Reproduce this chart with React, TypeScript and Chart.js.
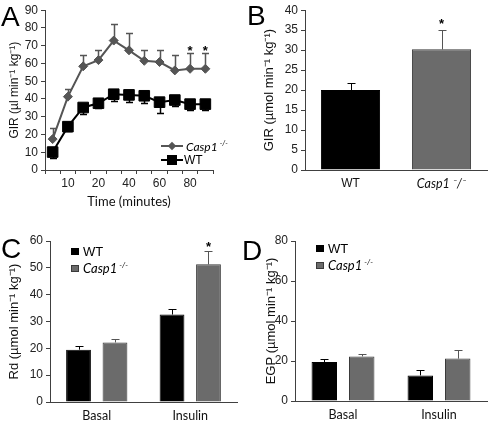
import React, { useEffect, useRef } from "react";
import { Chart, registerables } from "chart.js";

Chart.register(...registerables);

// ---------- Panel A: GIR time course ----------
const timePoints = ["5", "10", "15", "20", "30", "40", "50", "60", "70", "80", "90"];
const timeTicksShown = ["10", "20", "40", "60", "80"];
const girCasp1 = [17.4, 41.3, 58.4, 61.9, 72.9, 67.4, 61.5, 60.8, 56.1, 57, 57];
const girCasp1Sem = [6.1, 4.6, 6.3, 5.7, 9.6, 9.9, 6.1, 6.9, 8.9, 9, 9];
const girWT = [10.1, 24.4, 35.2, 37.6, 42.7, 42.3, 41.8, 38.2, 39.4, 37.1, 37.1];
const girWTSem = [3.1, 2.6, 3.4, 2.6, 4.0, 4.1, 3.8, 6.2, 3.4, 3.5, 3.5];
const girStars = [false, false, false, false, false, false, false, false, false, true, true];

// ---------- Panel B: mean GIR ----------
const genotypes = ["WT", "Casp1 \u207B/\u207B"];
const girMean = [20, 30.2];
const girMeanSem = [1.7, 4.9];
const girMeanStars = [false, true];

// ---------- Panels C & D ----------
const conditions = ["Basal", "Insulin"];
const rdWT = [19.5, 32.6];
const rdWTSem = [1.3, 2.1];
const rdCasp1 = [22.2, 51.3];
const rdCasp1Sem = [1.2, 5.0];
const rdStars = [false, true];
const egpWT = [19.5, 12.8];
const egpWTSem = [1.3, 2.5];
const egpCasp1 = [22.3, 21.2];
const egpCasp1Sem = [1.2, 4.5];

const BLACK = "#000000";
const GREY = "#6b6b6b";
const GREY_LINE = "#555555";
const AXIS = "#404040";
const TICK_FONT = { family: "'Liberation Sans', Arial, sans-serif", size: 12 };
const TITLE_FONT = { family: "'Liberation Sans', Arial, sans-serif", size: 13 };
const TITLE_FONT_A = { family: "'Liberation Sans', Arial, sans-serif", size: 12 };
const CAL_FONT = "Lato, 'Open Sans', sans-serif";

const errorBarsPlugin = {
  id: "errorBars",
  beforeDatasetsDraw(chart: any) {
    const { ctx } = chart;
    chart.data.datasets.forEach((ds: any, i: number) => {
      if (!ds.errors) return;
      const meta = chart.getDatasetMeta(i);
      const yScale = chart.scales[meta.yAxisID];
      const dir = ds.errorDir === "down" ? -1 : 1;
      const cap = ds.capHalf ?? 4;
      ctx.save();
      ctx.lineWidth = ds.errorWidth ?? 1;
      meta.data.forEach((el: any, j: number) => {
        const v = ds.data[j];
        const e = ds.errors[j];
        const x = Math.round(el.x) + 0.5;
        const y0 = yScale.getPixelForValue(v);
        const y1 = Math.round(yScale.getPixelForValue(v + dir * e)) + 0.5;
        ctx.strokeStyle = Array.isArray(ds.errorColor) ? ds.errorColor[j] : ds.errorColor;
        ctx.beginPath();
        ctx.moveTo(x, y0);
        ctx.lineTo(x, y1);
        ctx.moveTo(x - cap, y1);
        ctx.lineTo(x + cap, y1);
        ctx.stroke();
      });
      ctx.restore();
    });
  },
  afterDatasetsDraw(chart: any) {
    const { ctx } = chart;
    chart.data.datasets.forEach((ds: any, i: number) => {
      if (!ds.stars) return;
      const meta = chart.getDatasetMeta(i);
      const yScale = chart.scales[meta.yAxisID];
      ctx.save();
      ctx.fillStyle = "#000";
      ctx.font = "bold 13px 'Liberation Sans', Arial, sans-serif";
      ctx.textAlign = "center";
      ctx.textBaseline = "alphabetic";
      meta.data.forEach((el: any, j: number) => {
        if (!ds.stars[j]) return;
        const top = yScale.getPixelForValue(ds.data[j] + ds.errors[j]);
        ctx.fillText("*", el.x, top + (ds.starOffset ?? 2));
      });
      ctx.restore();
    });
  },
};

function yAxis(max: number, step: number, title: string, width: number, titlePad: number, titleFont: any = TITLE_FONT) {
  return {
    min: 0,
    max,
    ticks: { stepSize: step, color: "#222", font: TICK_FONT, padding: 3 },
    grid: { drawOnChartArea: false, drawTicks: true, tickLength: 4, color: AXIS },
    border: { display: true, color: AXIS, width: 1 },
    title: { display: true, text: title, color: "#111", font: titleFont, padding: { top: titlePad, bottom: 0 } },
    afterFit: (s: any) => {
      s.width = width;
    },
  };
}

function ChartCanvas({ left, top, width, height, build }: any) {
  const ref = useRef<HTMLCanvasElement | null>(null);
  useEffect(() => {
    if (!ref.current) return;
    const chart = new Chart(ref.current, build());
    return () => chart.destroy();
  }, []);
  return (
    <canvas
      ref={ref}
      width={width}
      height={height}
      style={{ position: "absolute", left, top, width, height }}
    />
  );
}

const buildA = () => ({
  type: "line",
  data: {
    labels: timePoints,
    datasets: [
      {
        label: "Casp1 -/-",
        data: girCasp1,
        borderColor: GREY_LINE,
        backgroundColor: GREY_LINE,
        borderWidth: 2,
        pointStyle: "rectRot",
        pointRadius: 4.5,
        pointBorderWidth: 1,
        errors: girCasp1Sem,
        errorDir: "up",
        errorColor: GREY_LINE,
        errorWidth: 1.5,
        capHalf: 3.5,
        stars: girStars,
        starOffset: 2,
      },
      {
        label: "WT",
        data: girWT,
        borderColor: BLACK,
        backgroundColor: BLACK,
        borderWidth: 2,
        pointStyle: "rect",
        pointRadius: 7.5,
        pointBorderWidth: 1,
        errors: girWTSem,
        errorDir: "down",
        errorColor: BLACK,
        errorWidth: 1.5,
        capHalf: 3.5,
      },
    ],
  },
  options: {
    responsive: false,
    animation: false,
    layout: { padding: { top: 7, right: 27, bottom: 0, left: 0 } },
    plugins: { legend: { display: false }, tooltip: { enabled: false } },
    scales: {
      x: {
        type: "category",
        offset: true,
        grid: { offset: true, drawOnChartArea: false, drawTicks: true, tickLength: 4, color: AXIS },
        border: { display: true, color: AXIS, width: 1 },
        ticks: {
          color: "#222",
          font: TICK_FONT,
          autoSkip: false,
          maxRotation: 0,
          padding: 2,
          callback: function (this: any, _v: any, i: number) {
            const l = timePoints[i];
            return timeTicksShown.includes(l) ? l : "";
          },
        },
        title: {
          display: true,
          text: "Time (minutes)",
          color: "#111",
          font: { family: CAL_FONT, size: 13 },
          padding: { top: 0, bottom: 0 },
        },
        afterFit: (s: any) => {
          s.height = 40;
        },
      },
      y: yAxis(90, 10, "GIR (\u00B5l min\u207B\u00B9 kg\u207B\u00B9)", 45, 7, TITLE_FONT_A),
    },
  },
  plugins: [errorBarsPlugin],
});

const buildB = () => ({
  type: "bar",
  data: {
    labels: genotypes,
    datasets: [
      {
        data: girMean,
        backgroundColor: [BLACK, GREY],
        borderColor: [BLACK, "#3a3a3a"],
        borderWidth: 1,
        barPercentage: 0.65,
        categoryPercentage: 1,
        errors: girMeanSem,
        errorDir: "up",
        errorColor: [BLACK, GREY_LINE],
        capHalf: 4,
        stars: girMeanStars,
        starOffset: -2,
      },
    ],
  },
  options: {
    responsive: false,
    animation: false,
    layout: { padding: { top: 7, right: 1, bottom: 0, left: 0 } },
    plugins: { legend: { display: false }, tooltip: { enabled: false } },
    scales: {
      x: {
        grid: { display: false, drawTicks: false },
        border: { display: true, color: AXIS, width: 1 },
        ticks: {
          color: "#111",
          padding: 6,
          font: (c: any) =>
            c.index === 1
              ? { family: CAL_FONT, size: 12.5, style: "italic" }
              : { family: "'Liberation Sans', Arial, sans-serif", size: 12 },
        },
        afterFit: (s: any) => {
          s.height = 40;
        },
      },
      y: yAxis(40, 5, "GIR (\u00B5mol min\u207B\u00B9 kg\u207B\u00B9)", 65, 22),
    },
  },
  plugins: [errorBarsPlugin],
});

const buildGrouped = (
  wt: number[],
  wtSem: number[],
  casp: number[],
  caspSem: number[],
  stars: boolean[] | null,
  max: number,
  step: number,
  title: string,
  yWidth: number,
  titlePad: number,
  xHeight: number,
  padRight: number
) => () => ({
  type: "bar",
  data: {
    labels: conditions,
    datasets: [
      {
        label: "WT",
        data: wt,
        backgroundColor: BLACK,
        borderColor: BLACK,
        borderWidth: 1,
        barPercentage: 0.68,
        categoryPercentage: 0.78,
        errors: wtSem,
        errorDir: "up",
        errorColor: BLACK,
        capHalf: 4,
      },
      {
        label: "Casp1 -/-",
        data: casp,
        backgroundColor: GREY,
        borderColor: "#3a3a3a",
        borderWidth: 1,
        barPercentage: 0.68,
        categoryPercentage: 0.78,
        errors: caspSem,
        errorDir: "up",
        errorColor: GREY_LINE,
        capHalf: 4,
        stars: stars,
        starOffset: 0,
      },
    ],
  },
  options: {
    responsive: false,
    animation: false,
    layout: { padding: { top: 31, right: padRight, bottom: 0, left: 0 } },
    plugins: { legend: { display: false }, tooltip: { enabled: false } },
    scales: {
      x: {
        grid: { display: false, drawTicks: false },
        border: { display: true, color: AXIS, width: 1 },
        ticks: { color: "#111", padding: 6, font: { family: CAL_FONT, size: 12.5 } },
        afterFit: (s: any) => {
          s.height = xHeight;
        },
      },
      y: yAxis(max, step, title, yWidth, titlePad),
    },
  },
  plugins: [errorBarsPlugin],
});

const buildC = buildGrouped(
  rdWT, rdWTSem, rdCasp1, rdCasp1Sem, rdStars, 60, 10,
  "Rd (\u00B5mol min\u207B\u00B9 kg\u207B\u00B9)", 50, 7, 19, 3
);
const buildD = buildGrouped(
  egpWT, egpWTSem, egpCasp1, egpCasp1Sem, null, 80, 20,
  "EGP (\u00B5mol min\u207B\u00B9 kg\u207B\u00B9)", 55, 24, 20, 1
);

const letterStyle = (left: number, top: number): React.CSSProperties => ({
  position: "absolute",
  left,
  top,
  fontFamily: "'Liberation Sans', Arial, sans-serif",
  fontSize: 28,
  lineHeight: "28px",
  color: "#000",
});

const Casp1Label = ({ size }: { size: number }) => (
  <span style={{ fontFamily: CAL_FONT, fontStyle: "italic", fontSize: size }}>
    Casp1
    <span style={{ fontSize: size * 0.6, verticalAlign: "super", marginLeft: 2 }}>-/-</span>
  </span>
);

function BarLegend({ left, top }: { left: number; top: number }) {
  const row = (y: number, color: string, label: React.ReactNode) => (
    <div style={{ position: "absolute", left: 0, top: y, display: "flex", alignItems: "center", whiteSpace: "nowrap" }}>
      <div style={{ width: 8, height: 7, background: color, border: color === GREY ? "1px solid #3a3a3a" : "none", boxSizing: "border-box", marginRight: 4 }} />
      {label}
    </div>
  );
  return (
    <div style={{ position: "absolute", left, top, width: 100, height: 40 }}>
      {row(0, BLACK, <span style={{ fontFamily: "'Liberation Sans', Arial, sans-serif", fontSize: 13 }}>WT</span>)}
      {row(16, GREY, <Casp1Label size={13} />)}
    </div>
  );
}

function LineLegend({ left, top }: { left: number; top: number }) {
  return (
    <div style={{ position: "absolute", left, top, width: 80, height: 30 }}>
      <div style={{ position: "absolute", left: 0, top: 0, display: "flex", alignItems: "center", whiteSpace: "nowrap", height: 14 }}>
        <div style={{ position: "relative", width: 22, height: 14, marginRight: 3 }}>
          <div style={{ position: "absolute", left: 0, top: 6, width: 22, height: 2, background: GREY_LINE }} />
          <div style={{ position: "absolute", left: 8, top: 4, width: 6, height: 6, background: GREY_LINE, transform: "rotate(45deg)" }} />
        </div>
        <Casp1Label size={12} />
      </div>
      <div style={{ position: "absolute", left: 0, top: 14, display: "flex", alignItems: "center", whiteSpace: "nowrap", height: 14 }}>
        <div style={{ position: "relative", width: 22, height: 14, marginRight: 1 }}>
          <div style={{ position: "absolute", left: 0, top: 6, width: 22, height: 2, background: BLACK }} />
          <div style={{ position: "absolute", left: 6, top: 2, width: 10, height: 10, background: BLACK }} />
        </div>
        <span style={{ fontFamily: "'Liberation Sans', Arial, sans-serif", fontSize: 12 }}>WT</span>
      </div>
    </div>
  );
}

export default function App() {
  return (
    <div
      style={{
        position: "fixed",
        left: 0,
        top: 0,
        width: 488,
        height: 421,
        background: "#fff",
        overflow: "hidden",
      }}
    >
      <ChartCanvas left={0} top={0} width={240} height={210} build={buildA} />
      <ChartCanvas left={240} top={0} width={248} height={210} build={buildB} />
      <ChartCanvas left={0} top={210} width={240} height={211} build={buildC} />
      <ChartCanvas left={240} top={210} width={248} height={211} build={buildD} />

      <div style={letterStyle(1, 3)}>A</div>
      <div style={letterStyle(247, 2)}>B</div>
      <div style={letterStyle(1, 235)}>C</div>
      <div style={letterStyle(242, 237)}>D</div>

      <LineLegend left={161} top={139} />
      <BarLegend left={71} top={244} />
      <BarLegend left={316} top={241} />
    </div>
  );
}
